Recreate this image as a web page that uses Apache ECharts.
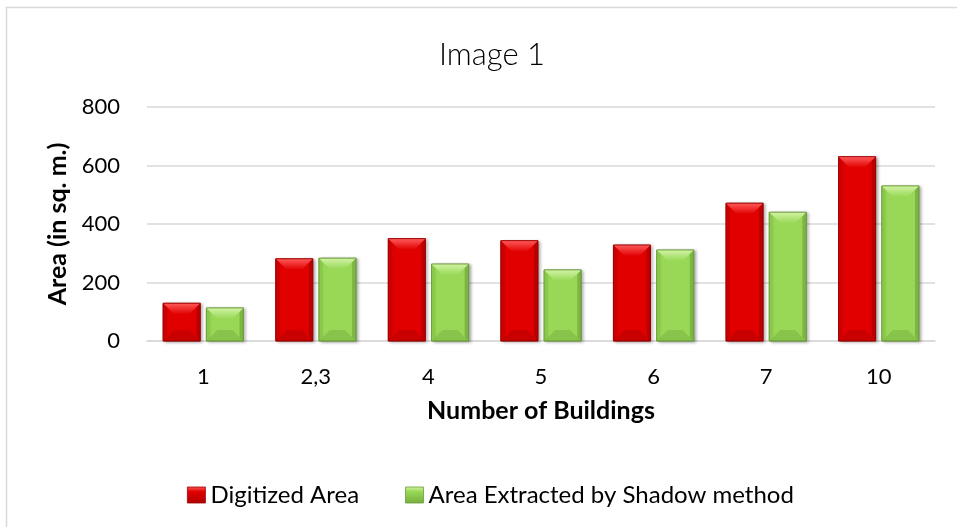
<!DOCTYPE html>
<html>
<head>
<meta charset="utf-8">
<script src="https://cdn.jsdelivr.net/npm/echarts@6/dist/echarts.min.js"></script>
<style>
  html, body { margin: 0; padding: 0; background: #fff; }
  #chart { width: 957px; height: 527px; }
</style>
</head>
<body>
<div id="chart"></div>
<script>
// Building groups and measured footprint areas (sq. m.)
const categories = ['1', '2,3', '4', '5', '6', '7', '10'];
const digitizedArea = [129, 281, 350, 343, 328, 471, 630];
const shadowArea = [113, 283, 263, 243, 311, 440, 530];
const yTicks = { min: 0, max: 800, interval: 200 };

const FONT = 'Lato, "Open Sans", sans-serif';

// Bevelled bar palette: [main, top highlight, side shade, bottom shade, edge]
const RED = ['#e00000', '#ff5a5a', '#c80000', '#b00000', '#9a0000'];
const GREEN = ['#98d856', '#d2f3a4', '#88c84a', '#76ad3e', '#6b9c38'];

function bevelBar(palette, side) {
  return function (params, api) {
    const idx = api.value(0);
    const top = api.coord([idx, api.value(1)]);
    const base = api.coord([idx, 0]);
    const band = api.size([1, 0])[0];
    const w = band * 0.329;
    const gap = band * 0.055;
    const x0 = side < 0 ? top[0] - gap / 2 - w : top[0] + gap / 2;
    const x1 = x0 + w;
    const y0 = top[1];
    const y1 = base[1];
    const h = y1 - y0;
    const b = Math.min(11, h / 2, w / 2);
    return {
      type: 'group',
      children: [
        {
          type: 'rect',
          shape: { x: x0, y: y0, width: w, height: h },
          style: {
            fill: palette[0], stroke: palette[4], lineWidth: 0.8,
            shadowBlur: 3, shadowOffsetX: 2, shadowOffsetY: 1, shadowColor: 'rgba(0,0,0,0.35)'
          }
        },
        {
          type: 'polygon',
          shape: { points: [[x0, y1], [x0 + b, y1 - b], [x1 - b, y1 - b], [x1, y1]] },
          style: { fill: palette[3], opacity: 0.45 }
        },
        {
          type: 'polygon',
          shape: { points: [[x0, y0], [x0 + b * 0.35, y0 + b * 0.35], [x0 + b * 0.35, y1 - b * 0.35], [x0, y1]] },
          style: { fill: palette[2], opacity: 0.6 }
        },
        {
          type: 'polygon',
          shape: { points: [[x1, y0], [x1 - b * 0.35, y0 + b * 0.35], [x1 - b * 0.35, y1 - b * 0.35], [x1, y1]] },
          style: { fill: palette[3], opacity: 0.8 }
        },
        {
          type: 'polygon',
          shape: { points: [[x0, y0], [x1, y0], [x1 - b, y0 + b], [x0 + b, y0 + b]] },
          style: {
            fill: new echarts.graphic.LinearGradient(0, 0, 0, 1, [
              { offset: 0, color: palette[1] },
              { offset: 1, color: palette[0] }
            ])
          }
        },
        {
          type: 'rect',
          shape: { x: x0, y: y0, width: w, height: h },
          style: { fill: 'none', stroke: palette[4], lineWidth: 0.8 }
        }
      ]
    };
  };
}

function legendFill(palette) {
  return new echarts.graphic.LinearGradient(0, 0, 0, 1, [
    { offset: 0, color: palette[1] },
    { offset: 0.3, color: palette[0] },
    { offset: 1, color: palette[3] }
  ]);
}

const chart = echarts.init(document.getElementById('chart'), null, { renderer: 'canvas' });

chart.setOption({
  backgroundColor: '#ffffff',
  animation: false,
  graphic: [{
    type: 'rect',
    shape: { x: 6.5, y: 7.5, width: 960, height: 530 },
    style: { fill: 'none', stroke: '#d9d9d9', lineWidth: 1.5 },
    z: -1
  }],
  title: {
    text: 'Image 1',
    left: 487,
    top: 34,
    textAlign: 'center',
    textStyle: { fontFamily: FONT, fontWeight: 300, fontSize: 31, color: '#000' }
  },
  grid: { left: 147, right: 22, top: 107, bottom: 186 },
  legend: {
    left: 182,
    top: 478,
    itemWidth: 18,
    itemHeight: 16,
    itemGap: 46,
    icon: 'rect',
    textStyle: { fontFamily: FONT, fontSize: 24, color: '#000', padding: [0, 0, 0, 0] },
    data: [
      { name: 'Digitized Area', itemStyle: { color: legendFill(RED), borderColor: RED[4], borderWidth: 0.8 } },
      { name: 'Area Extracted by Shadow method', itemStyle: { color: legendFill(GREEN), borderColor: GREEN[4], borderWidth: 0.8 } }
    ]
  },
  xAxis: {
    type: 'category',
    data: categories,
    name: 'Number of Buildings',
    nameLocation: 'middle',
    nameGap: 57,
    nameTextStyle: { fontFamily: FONT, fontWeight: 'bold', fontSize: 25, color: '#000' },
    axisLine: { lineStyle: { color: '#d9d9d9', width: 1.5 } },
    axisTick: { show: false },
    axisLabel: { fontFamily: FONT, fontSize: 22, color: '#000', margin: 25 }
  },
  yAxis: {
    type: 'value',
    min: yTicks.min,
    max: yTicks.max,
    interval: yTicks.interval,
    name: 'Area (in sq. m.)',
    nameLocation: 'middle',
    nameGap: 76,
    nameTextStyle: { fontFamily: FONT, fontWeight: 'bold', fontSize: 25, color: '#000' },
    axisLine: { show: false },
    axisTick: { show: false },
    axisLabel: { fontFamily: FONT, fontSize: 22, color: '#000', margin: 27 },
    splitLine: { lineStyle: { color: '#d9d9d9', width: 1.5 } }
  },
  series: [
    {
      name: 'Digitized Area',
      type: 'custom',
      renderItem: bevelBar(RED, -1),
      itemStyle: { color: RED[0] },
      encode: { x: 0, y: 1 },
      data: digitizedArea.map((v, i) => [i, v])
    },
    {
      name: 'Area Extracted by Shadow method',
      type: 'custom',
      renderItem: bevelBar(GREEN, 1),
      itemStyle: { color: GREEN[0] },
      encode: { x: 0, y: 1 },
      data: shadowArea.map((v, i) => [i, v])
    }
  ]
});
</script>
</body>
</html>
